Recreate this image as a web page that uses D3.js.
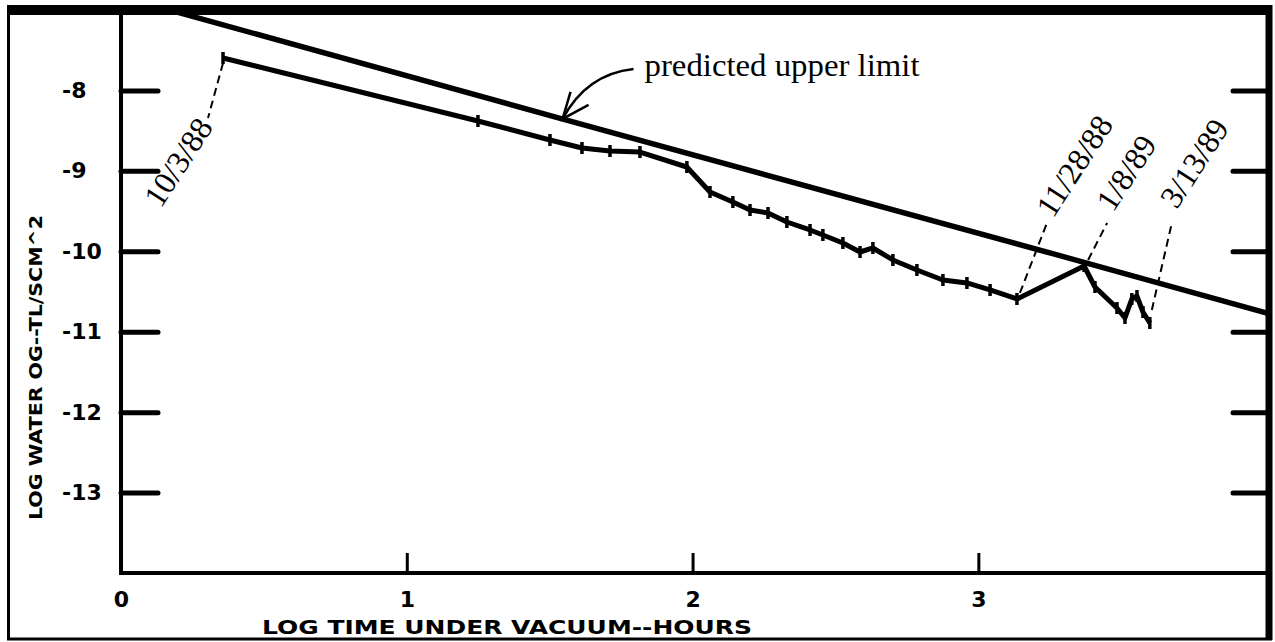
<!DOCTYPE html>
<html><head><meta charset="utf-8">
<script src="https://cdn.jsdelivr.net/npm/d3@7"></script>
<style>body{margin:0;background:#fff}svg{display:block}</style>
</head><body>
<svg id="c" width="1275" height="642"></svg>
<script>
// ---- data ----
const xTickValues = [0, 1, 2, 3];
const yTickValues = [-8, -9, -10, -11, -12, -13];
const limitX = [0.19, 1.54, 3.26, 4.01];
const limitY = [-7.02, -8.35, -10.03, -10.77];
const measuredX = [0.357, 1.249, 1.501, 1.613, 1.711, 1.816, 1.980, 2.061, 2.141, 2.201, 2.264, 2.330, 2.411, 2.456, 2.526, 2.586, 2.631, 2.701, 2.785, 2.876, 2.960, 3.041, 3.135, 3.370, 3.408, 3.485, 3.513, 3.537, 3.555, 3.576, 3.600];
const measuredY = [-7.597, -8.380, -8.616, -8.716, -8.753, -8.766, -8.952, -9.263, -9.387, -9.487, -9.524, -9.636, -9.735, -9.797, -9.897, -10.009, -9.959, -10.108, -10.233, -10.357, -10.394, -10.481, -10.593, -10.183, -10.444, -10.705, -10.829, -10.593, -10.556, -10.755, -10.892];
const dateLabels = ["10/3/88", "11/28/88", "1/8/89", "3/13/89"];
const dateIndex = [0, 22, 23, 30];
const limitLabel = "predicted upper limit";
const xTitle = "LOG TIME UNDER VACUUM--HOURS";
const yTitle = "LOG WATER OG--TL/SCM^2";

// ---- layout ----
const svg = d3.select("#c");
const x = d3.scaleLinear().domain([0, 4.01]).range([121, 1267]);
const y = d3.scaleLinear().domain([-14, -7]).range([573, 10]);
const plotFont = "'DejaVu Sans', sans-serif";
const serif = "'Liberation Serif', 'Times New Roman', serif";

// frame
const frame = svg.append("g").attr("stroke", "#000").attr("fill", "none");
frame.append("line").attr("x1", 8).attr("x2", 1272).attr("y1", 10).attr("y2", 10).attr("stroke-width", 10);
frame.append("line").attr("x1", 8.5).attr("x2", 8.5).attr("y1", 5).attr("y2", 640).attr("stroke-width", 3);
frame.append("line").attr("x1", 7).attr("x2", 1272).attr("y1", 639).attr("y2", 639).attr("stroke-width", 3);
frame.append("line").attr("x1", 1269).attr("x2", 1269).attr("y1", 5).attr("y2", 640).attr("stroke-width", 7);
frame.append("line").attr("x1", 121).attr("x2", 121).attr("y1", 10).attr("y2", 575).attr("stroke-width", 4);
frame.append("line").attr("x1", 119).attr("x2", 1268).attr("y1", 573).attr("y2", 573).attr("stroke-width", 4);

// axes
const gL = svg.append("g").attr("transform", "translate(121,0)")
  .call(d3.axisLeft(y).tickValues(yTickValues).tickSize(-37).tickFormat(d => String(d)));
gL.select(".domain").remove();
gL.selectAll(".tick line").attr("stroke", "#000").attr("stroke-width", 5).attr("stroke-linecap", "round");
gL.selectAll(".tick text").attr("x", -59).attr("text-anchor", "start")
  .attr("font-family", plotFont).attr("font-weight", "bold").attr("font-size", 22).attr("fill", "#000");

const gR = svg.append("g").attr("transform", "translate(1267,0)")
  .call(d3.axisRight(y).tickValues(yTickValues).tickSize(-34).tickFormat(""));
gR.select(".domain").remove();
gR.selectAll(".tick line").attr("stroke", "#000").attr("stroke-width", 5).attr("stroke-linecap", "round");

const gB = svg.append("g").attr("transform", "translate(0,573)")
  .call(d3.axisBottom(x).tickValues(xTickValues).tickSize(-20).tickPadding(0).tickFormat(d => String(d)));
gB.select(".domain").remove();
gB.selectAll(".tick line").attr("stroke", "#000").attr("stroke-width", 3);
gB.selectAll(".tick text").attr("y", 26).attr("dy", "0.35em")
  .attr("font-family", plotFont).attr("font-weight", "bold").attr("font-size", 22).attr("fill", "#000");

// axis titles
svg.append("text").attr("x", 262).attr("y", 634).attr("textLength", 490).attr("lengthAdjust", "spacingAndGlyphs")
  .attr("font-family", plotFont).attr("font-weight", "bold").attr("font-size", 19).text(xTitle);
svg.append("text").attr("transform", "translate(42,520) rotate(-90)").attr("textLength", 305).attr("lengthAdjust", "spacingAndGlyphs")
  .attr("font-family", plotFont).attr("font-weight", "bold").attr("font-size", 18).text(yTitle);

// predicted upper limit line
const limitPts = limitX.map((v, i) => [x(v), y(limitY[i])]);
svg.append("path").attr("d", d3.line()(limitPts)).attr("fill", "none").attr("stroke", "#000").attr("stroke-width", 5.5);

// measured line
const mPts = measuredX.map((v, i) => [x(v), y(measuredY[i])]);
svg.append("path").attr("d", d3.line()(mPts)).attr("fill", "none").attr("stroke", "#000")
  .attr("stroke-width", 5).attr("stroke-linejoin", "round");
svg.append("g").selectAll("line").data(mPts).join("line")
  .attr("x1", d => d[0]).attr("x2", d => d[0]).attr("y1", d => d[1] - 6).attr("y2", d => d[1] + 6)
  .attr("stroke", "#000").attr("stroke-width", 3.5);

// date annotations
const leaderOff = [[[0, 5], [-15, 60]], [[3, -6], [30, -76]], [[4, -6], [23, -43]], [[2, -13], [22, -100]]];
const textOff = [[-9, 69, "end"], [36, -80, "start"], [29, -53, "start"], [27, -113, "start"]];
dateLabels.forEach((lab, k) => {
  const p = mPts[dateIndex[k]];
  const lo = leaderOff[k];
  svg.append("line").attr("x1", p[0] + lo[0][0]).attr("y1", p[1] + lo[0][1])
    .attr("x2", p[0] + lo[1][0]).attr("y2", p[1] + lo[1][1])
    .attr("stroke", "#000").attr("stroke-width", 2).attr("stroke-dasharray", "8,5");
  const t = textOff[k];
  svg.append("text").attr("transform", `translate(${p[0] + t[0]},${p[1] + t[1]}) rotate(-57)`)
    .attr("text-anchor", t[2]).attr("font-family", serif).attr("font-size", 32).text(lab);
});

// predicted upper limit label + arrow
const tipX = 1.545;
const tip = [x(tipX), y(d3.scaleLinear().domain(limitX.slice(1, 3)).range(limitY.slice(1, 3))(tipX))];
svg.append("path")
  .attr("d", `M${tip[0] + 71},${tip[1] - 50} Q${tip[0] + 24},${tip[1] - 45} ${tip[0]},${tip[1]}`)
  .attr("fill", "none").attr("stroke", "#000").attr("stroke-width", 2.5);
svg.append("path")
  .attr("d", `M${tip[0] + 8},${tip[1] - 27} L${tip[0]},${tip[1]} L${tip[0] + 26},${tip[1] - 14}`)
  .attr("fill", "none").attr("stroke", "#000").attr("stroke-width", 2.5);
svg.append("text").attr("x", tip[0] + 82).attr("y", tip[1] - 43).attr("textLength", 275).attr("lengthAdjust", "spacingAndGlyphs")
  .attr("font-family", serif).attr("font-size", 31).text(limitLabel);
</script>
</body></html>
